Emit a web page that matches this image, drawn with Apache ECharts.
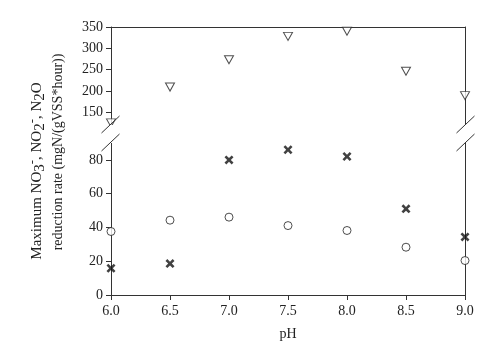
<!DOCTYPE html>
<html><head><meta charset="utf-8">
<script src="https://cdn.jsdelivr.net/npm/echarts@6/dist/echarts.min.js"></script>
<style>html,body{margin:0;padding:0;background:#fff}#c{width:504px;height:352px}</style>
</head><body><div id="c"></div>
<script>
const phValues = [6.0, 6.5, 7.0, 7.5, 8.0, 8.5, 9.0];
const no3Rate = [125, 209, 273, 328, 340, 246, 189];   // triangles (upper panel)
const no2Rate = [15.8, 18.6, 80, 86, 82, 51, 34.4];     // crosses
const n2oRate = [37.6, 44.3, 46.1, 41.1, 38.2, 28.3, 20.4]; // circles
const upperTicks = [150, 200, 250, 300, 350];
const lowerTicks = [0, 20, 40, 60, 80];
const xTicks = [6.0, 6.5, 7.0, 7.5, 8.0, 8.5, 9.0];

const FONT = "'Liberation Serif', 'Times New Roman', serif";
const L = 111, R = 504 - 465, TOP1 = 27, BOT1 = 352 - 125, TOP2 = 143, BOT2 = 352 - 295;
const axisColor = '#333';

const chart = echarts.init(document.getElementById('c'), null, {renderer: 'canvas'});
const crossPath = 'path://M0,2 L2,0 L5,3 L8,0 L10,2 L7,5 L10,8 L8,10 L5,7 L2,10 L0,8 L3,5 Z';

function slash(cx, cy) {
  return {type: 'line', shape: {x1: cx - 9, y1: cy + 8.5, x2: cx + 9, y2: cy - 8.5},
    style: {stroke: axisColor, lineWidth: 1}, z: 100};
}
function gap(cx, y1, y2) {
  return {type: 'rect', shape: {x: cx - 2, y: y1, width: 4, height: y2 - y1},
    style: {fill: '#fff'}, z: 99};
}

const option = {
  backgroundColor: '#fff',
  animation: false,
  grid: [
    {left: L, right: R, top: TOP1, bottom: BOT1},
    {left: L, right: R, top: TOP2, bottom: BOT2}
  ],
  xAxis: [
    {gridIndex: 0, type: 'value', min: 6, max: 9, position: 'top',
      axisLine: {show: true, onZero: false, lineStyle: {color: axisColor}},
      axisTick: {show: false}, axisLabel: {show: false}, splitLine: {show: false}},
    {gridIndex: 1, type: 'value', min: 6, max: 9, interval: 0.5, position: 'bottom',
      name: 'pH', nameLocation: 'middle', nameGap: 32,
      nameTextStyle: {fontFamily: FONT, fontSize: 14, color: '#222'},
      axisLine: {show: true, onZero: false, lineStyle: {color: axisColor}},
      axisTick: {show: true, length: 5, lineStyle: {color: axisColor}, customValues: xTicks},
      axisLabel: {fontFamily: FONT, fontSize: 14, color: '#222', margin: 9,
        customValues: xTicks, formatter: v => v.toFixed(1)},
      splitLine: {show: false}}
  ],
  yAxis: [
    {gridIndex: 0, type: 'value', min: 120, max: 350, position: 'left',
      axisLine: {show: true, onZero: false, lineStyle: {color: axisColor}},
      axisTick: {show: true, length: 5, lineStyle: {color: axisColor}, customValues: upperTicks},
      axisLabel: {fontFamily: FONT, fontSize: 14, color: '#222', margin: 8, customValues: upperTicks},
      splitLine: {show: false}},
    {gridIndex: 0, type: 'value', min: 120, max: 350, position: 'right',
      axisLine: {show: true, onZero: false, lineStyle: {color: axisColor}},
      axisTick: {show: false}, axisLabel: {show: false}, splitLine: {show: false}},
    {gridIndex: 1, type: 'value', min: 0, max: 90, position: 'left',
      axisLine: {show: true, onZero: false, lineStyle: {color: axisColor}},
      axisTick: {show: true, length: 5, lineStyle: {color: axisColor}, customValues: lowerTicks},
      axisLabel: {fontFamily: FONT, fontSize: 14, color: '#222', margin: 8, customValues: lowerTicks},
      splitLine: {show: false}},
    {gridIndex: 1, type: 'value', min: 0, max: 90, position: 'right',
      axisLine: {show: true, onZero: false, lineStyle: {color: axisColor}},
      axisTick: {show: false}, axisLabel: {show: false}, splitLine: {show: false}}
  ],
  series: [
    {type: 'scatter', xAxisIndex: 0, yAxisIndex: 0, clip: false,
      data: phValues.map((x, i) => [x, no3Rate[i]]),
      symbol: 'triangle', symbolRotate: 180, symbolSize: [9, 8],
      itemStyle: {color: '#fff', borderColor: '#222', borderWidth: 1}, z: 5},
    {type: 'scatter', xAxisIndex: 1, yAxisIndex: 2, clip: false,
      data: phValues.map((x, i) => [x, n2oRate[i]]),
      symbol: 'circle', symbolSize: 8,
      itemStyle: {color: '#fff', borderColor: '#222', borderWidth: 1}, z: 5},
    {type: 'scatter', xAxisIndex: 1, yAxisIndex: 2, clip: false,
      data: phValues.map((x, i) => [x, no2Rate[i]]),
      symbol: crossPath, symbolSize: 9,
      itemStyle: {color: '#111'}, z: 6}
  ],
  graphic: [
    gap(111, 125, 143), gap(465, 125, 143),
    slash(110.5, 124.5), slash(110.5, 142.5),
    slash(465.5, 124.5), slash(465.5, 142.5),
    {type: 'text', x: 37, y: 171, rotation: Math.PI / 2, z: 100,
      style: {
        text: '{n|Maximum NO}{sb|3}{sp|-}{n|, NO}{sb|2}{sp|-}{n|, N}{sb|2}{n|O}',
        align: 'center', verticalAlign: 'middle', fill: '#222',
        fontFamily: FONT, fontSize: 15,
        rich: {
          n: {fontFamily: FONT, fontSize: 15, fill: '#222', verticalAlign: 'middle', lineHeight: 22},
          sb: {fontFamily: FONT, fontSize: 15, fill: '#222', verticalAlign: 'bottom', lineHeight: 22},
          sp: {fontFamily: FONT, fontSize: 13, fill: '#222', verticalAlign: 'top', lineHeight: 22}
        }
      }},
    {type: 'text', x: 58, y: 152, rotation: Math.PI / 2, z: 100,
      style: {text: 'reduction rate (mgN/(gVSS*hour))', align: 'center', verticalAlign: 'middle',
        fill: '#222', fontFamily: FONT, fontSize: 14}}
  ]
};
chart.setOption(option);
</script>
</body></html>
